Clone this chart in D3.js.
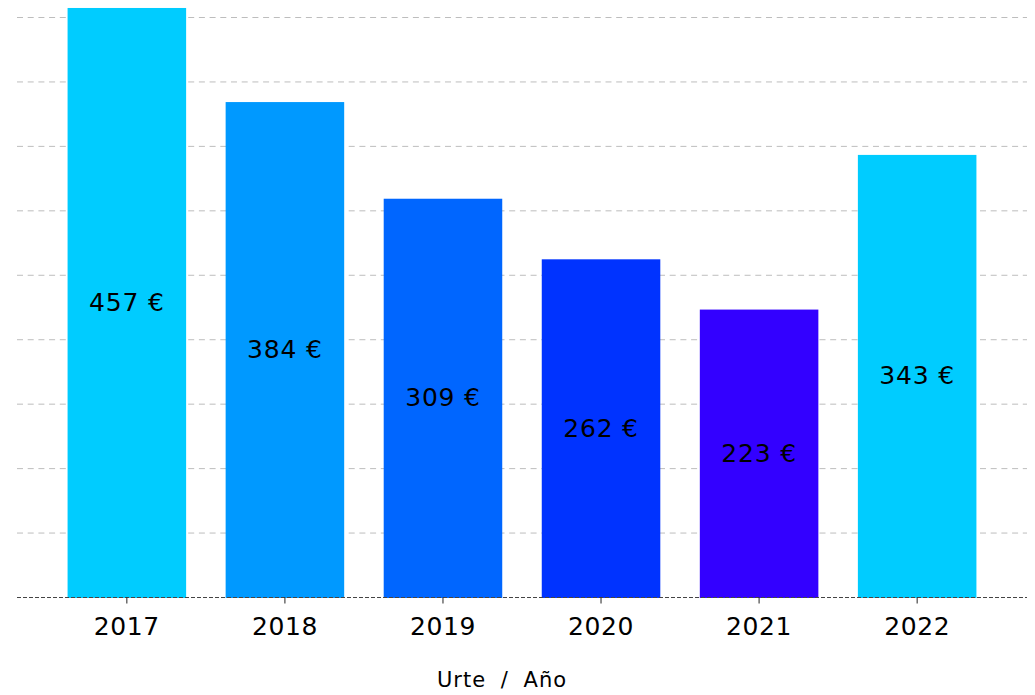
<!DOCTYPE html>
<html>
<head>
<meta charset="utf-8">
<script src="https://cdn.jsdelivr.net/npm/d3@7"></script>
<style>
  body { margin: 0; background: #fff; }
  text { font-family: "DejaVu Sans", Verdana, sans-serif; }
</style>
</head>
<body>
<div id="chart"></div>
<script>
var years = ["2017", "2018", "2019", "2020", "2021", "2022"];
var values = [457, 384, 309, 262, 223, 343];
var colors = ["#00ccff", "#0099ff", "#0066ff", "#0033ff", "#3300ff", "#00ccff"];
var gridTicks = [50, 100, 150, 200, 250, 300, 350, 400, 450];

var W = 1035, H = 695;
var plotLeft = 17, plotRight = 1027, plotTop = 17, plotBottom = 597;

var svg = d3.select("#chart").append("svg")
    .attr("width", W)
    .attr("height", H);

var x = d3.scaleBand().domain(years).range([plotLeft, plotRight])
    .paddingInner(0.25).paddingOuter(0.32);
var y = d3.scaleLinear().domain([0, 450]).range([plotBottom, plotTop]);

// gridlines
svg.append("g")
    .selectAll("line")
    .data(gridTicks)
    .join("line")
    .attr("x1", plotLeft).attr("x2", plotRight)
    .attr("y1", d => y(d) + 0.5).attr("y2", d => y(d) + 0.5)
    .attr("stroke", "#bdbdbd")
    .attr("stroke-width", 1)
    .attr("stroke-dasharray", "6,4.7");

// bars
svg.append("g")
    .selectAll("rect")
    .data(values)
    .join("rect")
    .attr("x", (d, i) => x(years[i]))
    .attr("y", d => y(d))
    .attr("width", x.bandwidth())
    .attr("height", d => y(0) - y(d) + 1)
    .attr("fill", (d, i) => colors[i]);

// value labels
svg.append("g")
    .selectAll("text")
    .data(values)
    .join("text")
    .attr("x", (d, i) => x(years[i]) + x.bandwidth() / 2)
    .attr("y", d => (y(d) + y(0)) / 2)
    .attr("text-anchor", "middle")
    .attr("dominant-baseline", "central")
    .attr("font-size", "25px")
    .attr("letter-spacing", "0.8px")
    .attr("fill", "#000")
    .text(d => d + " €");

// x axis
var xAxis = svg.append("g")
    .attr("transform", "translate(0," + (plotBottom + 0.5) + ")")
    .call(d3.axisBottom(x).tickSize(6).tickPadding(14).tickSizeOuter(0));
xAxis.select(".domain")
    .attr("d", "M" + plotLeft + ",0H" + plotRight)
    .attr("stroke", "#444")
    .attr("stroke-dasharray", "4,2");
xAxis.selectAll(".tick line").attr("stroke", "#222");
xAxis.selectAll(".tick text")
    .attr("font-size", "25px")
    .attr("letter-spacing", "0.6px")
    .attr("font-family", "DejaVu Sans, Verdana, sans-serif")
    .attr("fill", "#000");

svg.append("text")
    .attr("x", 502)
    .attr("y", 687)
    .attr("text-anchor", "middle")
    .attr("font-size", "21px")
    .attr("letter-spacing", "1px")
    .attr("word-spacing", "7px")
    .attr("fill", "#000")
    .text("Urte / Año");
</script>
</body>
</html>
